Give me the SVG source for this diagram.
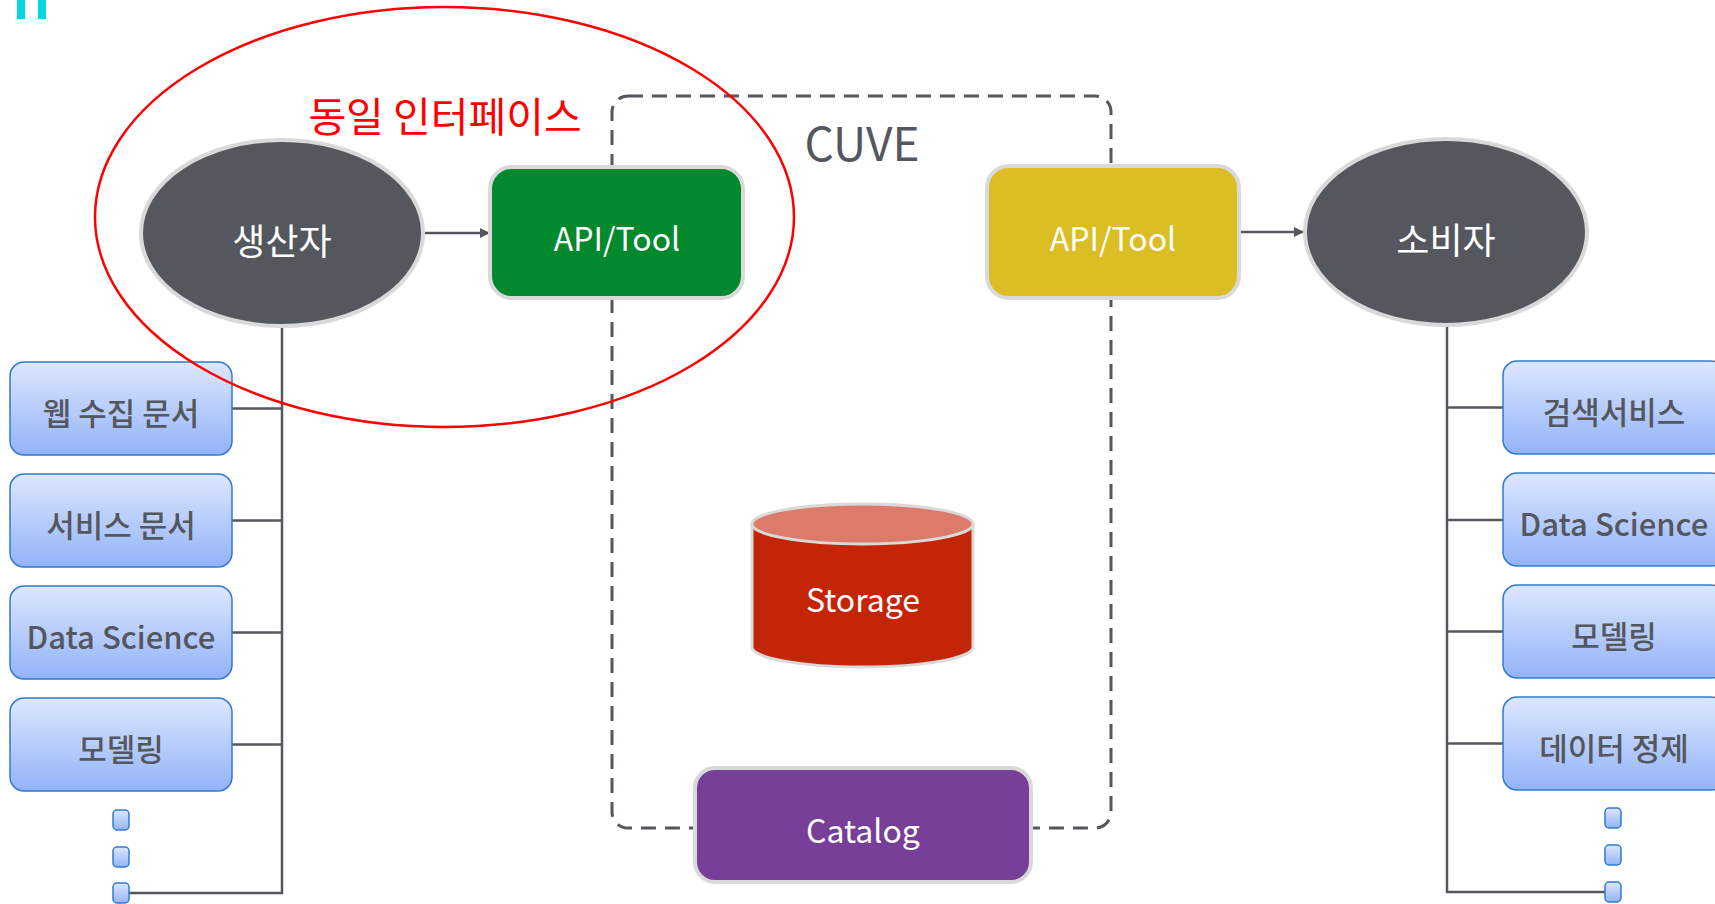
<svg xmlns="http://www.w3.org/2000/svg" width="1715" height="904" viewBox="0 0 1715 904">
<defs>
<linearGradient id="blueGrad" x1="0" y1="0" x2="0" y2="1">
<stop offset="0" stop-color="#DDE7FE"/>
<stop offset="1" stop-color="#93B3F8"/>
</linearGradient>
<marker id="arrow" viewBox="0 0 10 10" refX="9" refY="5" markerWidth="4" markerHeight="4" orient="auto" markerUnits="strokeWidth">
<path d="M0,0 L10,5 L0,10 z" fill="#54575E"/>
</marker>
</defs>
<style>
text { font-family: "Noto Sans CJK KR", "Noto Sans", sans-serif; text-anchor: middle; }
.conn { stroke: #54575E; stroke-width: 2.5; fill: none; }
.actor { fill: #54575E; stroke: #D9D9D9; stroke-width: 4; }
.actorText { fill: #FFFFFF; font-size: 36px; }
.tool { stroke: #D9D9D9; stroke-width: 4; }
.toolText { fill: #FFFFFF; font-size: 32px; }
.item { fill: url(#blueGrad); stroke: #2F7AD3; stroke-width: 1.5; }
.itemText { fill: #54575E; font-size: 31px; font-weight: 500; }
.dot { fill: url(#blueGrad); stroke: #2F7AD3; stroke-width: 1.5; }
</style>
<rect width="1715" height="904" fill="#FFFFFF"/>
<g id="corner-mark" fill="#00D8E3">
<rect x="17" y="0" width="8" height="19"/>
<rect x="38" y="0" width="8" height="19"/>
</g>
<g id="cuve-container">
<rect x="612" y="96" width="499" height="732" rx="16" fill="none" stroke="#54575E" stroke-width="3" stroke-dasharray="15 9"/>
<text x="862" y="161" fill="#54575E" font-size="46">CUVE</text>
</g>
<g id="connectors">
<line class="conn" x1="425" y1="233" x2="489" y2="233" marker-end="url(#arrow)"/>
<line class="conn" x1="1240" y1="232" x2="1303" y2="232" marker-end="url(#arrow)"/>
<polyline class="conn" points="282,326 282,893 129,893"/>
<line class="conn" x1="232" y1="408.5" x2="282" y2="408.5"/>
<line class="conn" x1="232" y1="520.5" x2="282" y2="520.5"/>
<line class="conn" x1="232" y1="632.5" x2="282" y2="632.5"/>
<line class="conn" x1="232" y1="744.5" x2="282" y2="744.5"/>
<polyline class="conn" points="1447,326 1447,892 1605,892"/>
<line class="conn" x1="1447" y1="407.5" x2="1503" y2="407.5"/>
<line class="conn" x1="1447" y1="520" x2="1503" y2="520"/>
<line class="conn" x1="1447" y1="631.5" x2="1503" y2="631.5"/>
<line class="conn" x1="1447" y1="743.5" x2="1503" y2="743.5"/>
</g>
<g id="producer">
<ellipse class="actor" cx="282" cy="233" rx="141" ry="93"/>
<text class="actorText" x="282" y="255">생산자</text>
</g>
<g id="api-tool-producer">
<rect class="tool" x="490" y="167" width="253" height="131" rx="22" fill="#02882D"/>
<text class="toolText" x="617" y="251">API/Tool</text>
</g>
<g id="api-tool-consumer">
<rect class="tool" x="987" y="166" width="252" height="132" rx="22" fill="#DBBD24"/>
<text class="toolText" x="1113" y="251">API/Tool</text>
</g>
<g id="consumer">
<ellipse class="actor" cx="1446" cy="232" rx="141" ry="93"/>
<text class="actorText" x="1446" y="254">소비자</text>
</g>
<g id="storage">
<path d="M752,524 L752,647 A110.5,20 0 0 0 973,647 L973,524" fill="#C52507" stroke="#D9D9D9" stroke-width="3"/>
<ellipse cx="862.5" cy="524" rx="110.5" ry="20" fill="#DD7B6B" stroke="#D9D9D9" stroke-width="3"/>
<text class="toolText" x="863" y="612">Storage</text>
</g>
<g id="catalog">
<rect class="tool" x="695" y="768" width="336" height="114" rx="20" fill="#783F99"/>
<text class="toolText" x="863" y="843">Catalog</text>
</g>
<g id="left-item-web">
<rect class="item" x="10" y="362" width="222" height="93" rx="14"/>
<text class="itemText" x="121" y="425">웹 수집 문서</text>
</g>
<g id="left-item-service">
<rect class="item" x="10" y="474" width="222" height="93" rx="14"/>
<text class="itemText" x="121" y="537">서비스 문서</text>
</g>
<g id="left-item-ds">
<rect class="item" x="10" y="586" width="222" height="93" rx="14"/>
<text class="itemText" x="121" y="649">Data Science</text>
</g>
<g id="left-item-model">
<rect class="item" x="10" y="698" width="222" height="93" rx="14"/>
<text class="itemText" x="121" y="761">모델링</text>
</g>
<g id="left-more">
<rect class="dot" x="113" y="810" width="16" height="20" rx="4"/>
<rect class="dot" x="113" y="847" width="16" height="20" rx="4"/>
<rect class="dot" x="113" y="883" width="16" height="20" rx="4"/>
</g>
<g id="right-item-search">
<rect class="item" x="1503" y="361" width="222" height="93" rx="14"/>
<text class="itemText" x="1614" y="424">검색서비스</text>
</g>
<g id="right-item-ds">
<rect class="item" x="1503" y="473" width="222" height="93" rx="14"/>
<text class="itemText" x="1614" y="536">Data Science</text>
</g>
<g id="right-item-model">
<rect class="item" x="1503" y="585" width="222" height="93" rx="14"/>
<text class="itemText" x="1614" y="648">모델링</text>
</g>
<g id="right-item-clean">
<rect class="item" x="1503" y="697" width="222" height="93" rx="14"/>
<text class="itemText" x="1614" y="760">데이터 정제</text>
</g>
<g id="right-more">
<rect class="dot" x="1605" y="808" width="16" height="20" rx="4"/>
<rect class="dot" x="1605" y="845" width="16" height="20" rx="4"/>
<rect class="dot" x="1605" y="882" width="16" height="20" rx="4"/>
</g>
<g id="same-interface-highlight">
<ellipse cx="444.5" cy="217" rx="349.5" ry="210" fill="none" stroke="#FF0000" stroke-width="2.5"/>
<text x="445" y="132" fill="#FF0000" font-size="41" font-weight="400">동일 인터페이스</text>
</g>
</svg>
